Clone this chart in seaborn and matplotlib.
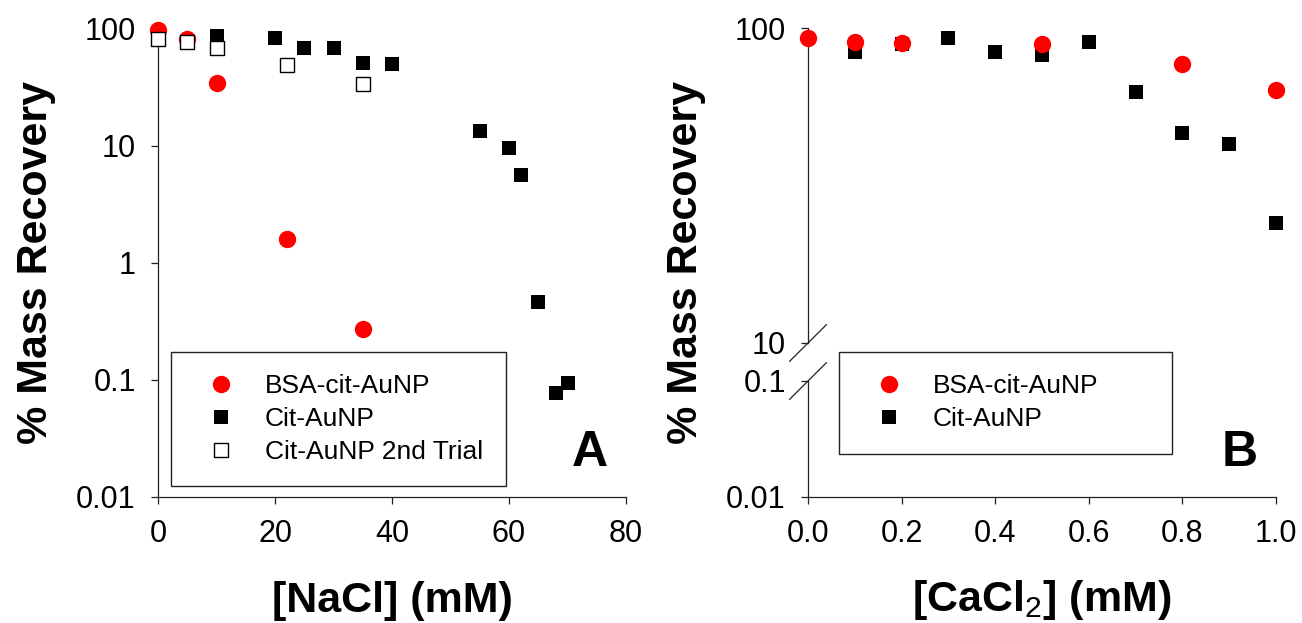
import matplotlib
matplotlib.use("Agg")
import matplotlib.pyplot as plt
import seaborn as sns
import pandas as pd
from matplotlib.lines import Line2D
from matplotlib.ticker import NullLocator

# ---------------- data ----------------
# Panel A: NaCl
nacl_bsa = [0, 5, 10, 22, 35]
rec_bsa_nacl = [97, 81, 34.5, 1.6, 0.27]
nacl_cit = [10, 20, 25, 30, 35, 40, 55, 60, 62, 65, 68, 70]
rec_cit_nacl = [86, 84, 69, 69, 51, 50, 13.4, 9.5, 5.6, 0.46, 0.077, 0.094]
nacl_cit2 = [0, 5, 10, 22, 35]
rec_cit2_nacl = [82, 77.5, 69, 49, 34]

# Panel B: CaCl2
cacl_bsa = [0.0, 0.1, 0.2, 0.5, 0.8, 1.0]
rec_bsa_cacl = [93, 90, 89.4, 88.8, 77, 63.6]
cacl_cit = [0.1, 0.2, 0.3, 0.4, 0.5, 0.6, 0.7, 0.8, 0.9, 1.0]
rec_cit_cacl = [84, 89, 92.7, 83.7, 82, 90, 62.6, 46.3, 42.8, 24]

series_labels = ["BSA-cit-AuNP", "Cit-AuNP", "Cit-AuNP 2nd Trial"]
xticks_a = [0, 20, 40, 60, 80]
xticklabels_a = ["0", "20", "40", "60", "80"]
xticks_b = [0.0, 0.2, 0.4, 0.6, 0.8, 1.0]
xticklabels_b = ["0.0", "0.2", "0.4", "0.6", "0.8", "1.0"]
yticks_a = [0.01, 0.1, 1, 10, 100]
yticklabels_a = ["0.01", "0.1", "1", "10", "100"]
yticks_b_up = [10, 100]
yticklabels_b_up = ["10", "100"]
yticks_b_lo = [0.01, 0.1]
yticklabels_b_lo = ["0.01", "0.1"]

# ---------------- style ----------------
sns.set_theme(style="ticks")
plt.rcParams["font.family"] = ["Liberation Sans", "DejaVu Sans"]
plt.rcParams["mathtext.fontset"] = "custom"
plt.rcParams["mathtext.rm"] = "Liberation Sans"
plt.rcParams["mathtext.bf"] = "Liberation Sans:bold"
plt.rcParams["text.color"] = "black"
plt.rcParams["axes.labelcolor"] = "black"
plt.rcParams["xtick.color"] = "black"
plt.rcParams["ytick.color"] = "black"

W, H = 1302, 623
fig = plt.figure(figsize=(W / 100, H / 100), dpi=100)

axA = fig.add_axes([158 / W, 1 - 496.7 / H, 468 / W, 468 / H])
axBu = fig.add_axes([808 / W, 1 - 343 / H, 468 / W, 315 / H])
axBl = fig.add_axes([808 / W, 1 - 496.7 / H, 468 / W, 115.7 / H])

S_CIRC = 156
S_SQ = 110

dfA_bsa = pd.DataFrame({"x": nacl_bsa, "y": rec_bsa_nacl})
dfA_cit = pd.DataFrame({"x": nacl_cit, "y": rec_cit_nacl})
dfA_cit2 = pd.DataFrame({"x": nacl_cit2, "y": rec_cit2_nacl})
dfB_bsa = pd.DataFrame({"x": cacl_bsa, "y": rec_bsa_cacl})
dfB_cit = pd.DataFrame({"x": cacl_cit, "y": rec_cit_cacl})

sns.scatterplot(data=dfA_bsa, x="x", y="y", ax=axA, marker="o", color="#ff0000",
                s=S_CIRC, linewidth=0, clip_on=False, zorder=3, legend=False)
sns.scatterplot(data=dfA_cit, x="x", y="y", ax=axA, marker="s", color="black",
                s=S_SQ, linewidth=0, clip_on=False, zorder=4, legend=False)
sns.scatterplot(data=dfA_cit2, x="x", y="y", ax=axA, marker="s", facecolor="white",
                edgecolor="black", s=S_SQ, linewidth=1.0, clip_on=False, zorder=5, legend=False)

for ax in (axBu, axBl):
    sns.scatterplot(data=dfB_cit, x="x", y="y", ax=ax, marker="s", color="black",
                    s=S_SQ, linewidth=0, clip_on=False, zorder=3, legend=False)
    sns.scatterplot(data=dfB_bsa, x="x", y="y", ax=ax, marker="o", color="#ff0000",
                    s=S_CIRC, linewidth=0, clip_on=False, zorder=4, legend=False)
axBl.collections[0].set_clip_on(True)
axBl.collections[1].set_clip_on(True)

# ---------------- axes ----------------
def style_axis(ax):
    for side in ("top", "right"):
        ax.spines[side].set_visible(False)
    for side in ("left", "bottom"):
        ax.spines[side].set_color("#222222")
        ax.spines[side].set_linewidth(0.9)
    ax.tick_params(axis="both", which="major", direction="out", length=5, width=0.9,
                   color="#222222", pad=11, labelsize=22, labelcolor="black")
    ax.yaxis.set_minor_locator(NullLocator())
    ax.set_xlabel("")
    ax.set_ylabel("")
    ax.set_facecolor("none")

for ax in (axA, axBu, axBl):
    style_axis(ax)

axA.set_yscale("log")
axA.set_ylim(0.01, 100)
axA.set_xlim(0, 80)
axA.set_xticks(xticks_a, xticklabels_a)
axA.set_yticks(yticks_a, yticklabels_a)
axA.yaxis.set_minor_locator(NullLocator())

axBu.set_yscale("log")
axBu.set_ylim(10, 100)
axBu.set_xlim(0, 1.0)
axBu.set_yticks(yticks_b_up, yticklabels_b_up)
axBu.yaxis.set_minor_locator(NullLocator())
axBu.spines["bottom"].set_visible(False)
axBu.set_xticks([])

axBl.set_yscale("log")
axBl.set_ylim(0.01, 0.1)
axBl.set_xlim(0, 1.0)
axBl.set_xticks(xticks_b, xticklabels_b)
axBl.set_yticks(yticks_b_lo, yticklabels_b_lo)
axBl.yaxis.set_minor_locator(NullLocator())

# axis-break slashes
for ax, yy, hpx in ((axBu, 0.0, 315.0), (axBl, 1.0, 115.7)):
    dx = 18.5 / 468
    dy = 18.4 / hpx
    ax.plot([-dx, dx], [yy - dy, yy + dy], transform=ax.transAxes, color="#222222",
            lw=0.9, clip_on=False)

# labels
label_kw = dict(fontsize=31, fontweight="bold", color="black")
axA.set_xlabel("[NaCl] (mM)", **label_kw)
axA.xaxis.set_label_coords(0.5, (496.7 - 581) / 468)
axA.set_ylabel("% Mass Recovery", **label_kw)
axA.yaxis.set_label_coords((56 - 158) / 468, 0.5)

axBl.set_xlabel(r"[CaCl$_\mathrm{2}$] (mM)", **label_kw)
axBl.xaxis.set_label_coords(0.5, (496.7 - 578) / 115.7)
axBu.set_ylabel("% Mass Recovery", **label_kw)
axBu.yaxis.set_label_coords((706 - 808) / 468, (343 - 263) / 315)

fig.text(590 / W, 1 - 453 / H, "A", fontsize=36, fontweight="bold", ha="center", va="center")
fig.text(1240 / W, 1 - 453 / H, "B", fontsize=36, fontweight="bold", ha="center", va="center")

# legends
h_bsa = Line2D([], [], marker="o", linestyle="none", color="#ff0000", markersize=12.5,
               markeredgewidth=0)
h_cit = Line2D([], [], marker="s", linestyle="none", color="black", markersize=10.5,
               markeredgewidth=0)
h_cit2 = Line2D([], [], marker="s", linestyle="none", markerfacecolor="white",
                markeredgecolor="black", markersize=10.5, markeredgewidth=1.0)

leg_kw = dict(loc="upper left", mode="expand", borderaxespad=0, fontsize=19,
              frameon=True, fancybox=False, shadow=False, framealpha=1,
              edgecolor="#222222", borderpad=0.85, labelspacing=0.33,
              handlelength=2.1, handletextpad=0.6)
legA = fig.legend([h_bsa, h_cit, h_cit2], series_labels,
                  bbox_to_anchor=(171 / W, 1 - 483 / H, 335 / W, 131 / H), **leg_kw)
legA.get_frame().set_linewidth(1.0)
legB = fig.legend([h_bsa, h_cit], series_labels[:2],
                  bbox_to_anchor=(839 / W, 1 - 446 / H, 333 / W, 94 / H), **leg_kw)
legB.get_frame().set_linewidth(1.0)
for leg in (legA, legB):
    for t in leg.get_texts():
        t.set_color("black")

fig.savefig("out.png", dpi=100)
